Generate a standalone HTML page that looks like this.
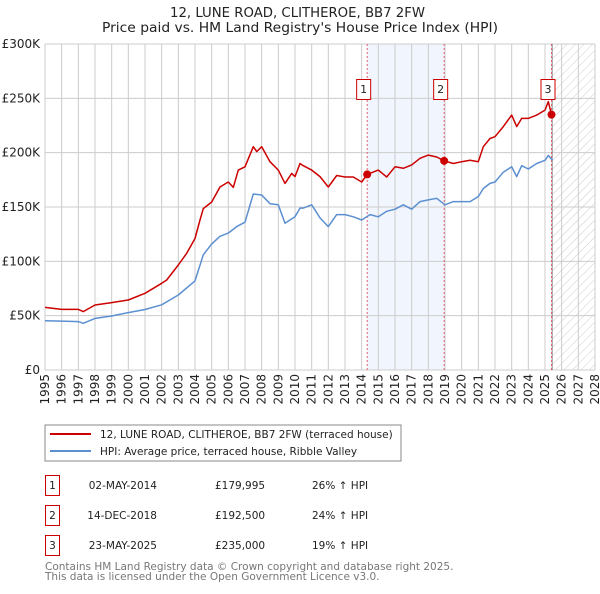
<!DOCTYPE html>
<html><head><meta charset="utf-8"><style>
body{margin:0;background:#fff;font-family:"DejaVu Sans","Liberation Sans",sans-serif;}
svg text{font-family:"DejaVu Sans","Liberation Sans",sans-serif;}
</style></head><body>
<svg id="c" width="600" height="590" xmlns="http://www.w3.org/2000/svg">
<defs><pattern id="hatch" width="6" height="6" patternUnits="userSpaceOnUse" patternTransform="rotate(45)"><line x1="0" y1="0" x2="0" y2="6" stroke="#ccc" stroke-width="1"/></pattern></defs>
<text x="170" y="17" textLength="255" lengthAdjust="spacingAndGlyphs" font-size="13" fill="#222">12, LUNE ROAD, CLITHEROE, BB7 2FW</text>
<text x="102" y="32" textLength="396" lengthAdjust="spacingAndGlyphs" font-size="13" fill="#222">Price paid vs. HM Land Registry's House Price Index (HPI)</text>
<g id="plot"></g>
<rect x="45" y="425" width="356" height="36" fill="#fff" stroke="#888"/>
<line x1="50" y1="434" x2="91" y2="434" stroke="#cc0000" stroke-width="2"/>
<text x="100" y="438" font-size="10.5" fill="#222">12, LUNE ROAD, CLITHEROE, BB7 2FW (terraced house)</text>
<line x1="50" y1="451" x2="91" y2="451" stroke="#5b8fd0" stroke-width="2"/>
<text x="100" y="455" font-size="10.5" fill="#222">HPI: Average price, terraced house, Ribble Valley</text>
<g font-size="10.5" fill="#222">
<rect x="45.5" y="475.5" width="14" height="20" fill="#fff" stroke="#c00"/><text x="52.5" y="489" text-anchor="middle">1</text>
<text x="157" y="489" text-anchor="end">02-MAY-2014</text><text x="215" y="489">£179,995</text><text x="312" y="489">26% ↑ HPI</text>
<rect x="45.5" y="505.5" width="14" height="20" fill="#fff" stroke="#c00"/><text x="52.5" y="519" text-anchor="middle">2</text>
<text x="157" y="519" text-anchor="end">14-DEC-2018</text><text x="215" y="519">£192,500</text><text x="312" y="519">24% ↑ HPI</text>
<rect x="45.5" y="535.5" width="14" height="20" fill="#fff" stroke="#c00"/><text x="52.5" y="549" text-anchor="middle">3</text>
<text x="157" y="549" text-anchor="end">23-MAY-2025</text><text x="215" y="549">£235,000</text><text x="312" y="549">19% ↑ HPI</text>
</g>
<text x="45" y="570" font-size="10.5" fill="#777">Contains HM Land Registry data © Crown copyright and database right 2025.</text>
<text x="45" y="580" font-size="10.5" fill="#777">This data is licensed under the Open Government Licence v3.0.</text>
</svg>
<script>
const hpiYears=[1995,1996,1997,1997.3,1998,1999,2000,2001,2002,2003,2004,2004.5,2005,2005.5,2006,2006.5,2007,2007.5,2008,2008.5,2009,2009.4,2010,2010.3,2010.5,2011,2011.5,2012,2012.5,2013,2013.5,2014,2014.5,2015,2015.5,2016,2016.5,2017,2017.5,2018,2018.5,2019,2019.5,2020,2020.5,2021,2021.3,2021.7,2022,2022.5,2023,2023.3,2023.6,2024,2024.5,2025,2025.2,2025.45];
const hpiValues=[45.4,45,44.5,43,47.5,49.7,52.8,55.7,60,69,82,106,116,123,126,132,136,162,161,153,152,135,141,149,149,152,140,132,143,143,141,138,143,141,146,148,152,148,155,156.5,158,152,155,155,155,159.6,167,171.7,173,182,187,178,188,185,190,193,197.5,193];
const priceYears=[1995,1996,1997,1997.3,1998,1999,2000,2001,2002,2002.3,2003,2003.5,2004,2004.3,2004.5,2005,2005.5,2006,2006.3,2006.6,2007,2007.5,2007.7,2008,2008.5,2009,2009.4,2009.8,2010,2010.3,2010.5,2011,2011.5,2012,2012.5,2013,2013.5,2014,2014.33,2015,2015.5,2016,2016.5,2017,2017.5,2018,2018.5,2018.95,2019.5,2020,2020.5,2021,2021.3,2021.7,2022,2022.5,2023,2023.3,2023.6,2024,2024.5,2025,2025.2,2025.39];
const priceValues=[57.6,55.8,55.8,53.7,59.8,62,64.4,70.6,79.8,82.8,96.6,107.4,121,138,148.5,154.6,168.4,173,168,184,187,205.5,201,205.5,191.7,184,171.7,180.9,178,190,188,184,178,168.4,179,177.6,177.6,173,180,184,177.6,187,185.6,188.7,194.8,197.8,196,192.5,190,191.7,193,191.7,205.5,213,214.7,224,234.6,224,231.5,231.5,234.6,239.2,247,235];
const saleYears=[2014.33,2018.95,2025.39];
const saleValues=[179.995,192.5,235];
const saleLabels=["1","2","3"];
const yTicks=[0,50,100,150,200,250,300];
const yTickLabels=["£0","£50K","£100K","£150K","£200K","£250K","£300K"];
const xTicks=[];for(let y=1995;y<=2028;y++)xTicks.push(y);
const X0=45,X1=595,Y0=370,Y1=44;
const sx=y=>X0+(y-1995)/(2028-1995)*(X1-X0);
const sy=v=>Y0-v/300*(Y0-Y1);
const NS="http://www.w3.org/2000/svg";
const g=document.getElementById('plot');
function mk(t,a,p){const e=document.createElementNS(NS,t);for(const k in a)e.setAttribute(k,a[k]);(p||g).appendChild(e);return e;}
let e=mk('rect',{x:sx(saleYears[0]),y:Y1,width:sx(saleYears[1])-sx(saleYears[0]),height:Y0-Y1,fill:'#eef3fc',opacity:0.8});


const hs=2025.43;
e=mk('rect',{x:sx(hs),y:Y1,width:X1-sx(hs),height:Y0-Y1,fill:'url(#hatch)'});


xTicks.forEach(t=>{const l=mk('line',{x1:sx(t),x2:sx(t),y1:Y1,y2:Y0,stroke:'#ccc','stroke-width':1});


const tx=mk('text',{x:0,y:0,'font-size':12,fill:'#222','text-anchor':'end',transform:`translate(${sx(t)+4},374) rotate(-90)`});tx.textContent=t;

});
yTicks.forEach((t,i)=>{const l=mk('line',{x1:X0,x2:X1,y1:sy(t),y2:sy(t),stroke:'#ccc','stroke-width':1});


const tx=mk('text',{x:40,y:sy(t)+4,'font-size':12,fill:'#222','text-anchor':'end'});tx.textContent=yTickLabels[i];

});
e=mk('line',{x1:sx(hs),x2:sx(hs),y1:Y1,y2:Y0,stroke:'#888'});


saleYears.forEach((s,i)=>{const l=mk('line',{x1:sx(s),x2:sx(s),y1:Y1,y2:Y0,stroke:'#e06070','stroke-dasharray':'2,2'});

});
function path(xs,vs,col,name){const d=xs.map((x,i)=>(i?'L':'M')+sx(x).toFixed(1)+','+sy(vs[i]).toFixed(1)).join('');
const p=mk('path',{d,fill:'none',stroke:col,'stroke-width':1.5,'stroke-linejoin':'round'});

}
path(hpiYears,hpiValues,'#5b8fd0','hpi-line');
path(priceYears,priceValues,'#cc0000','price-line');
saleYears.forEach((s,i)=>{const c=mk('circle',{cx:sx(s),cy:sy(saleValues[i]),r:4,fill:'#cc0000'});


const bx=sx(s)-3.5-7;
const r=mk('rect',{x:bx,y:79.5,width:14,height:20,fill:'#fff',stroke:'#c00'});


const t=mk('text',{x:bx+7,y:93,'font-size':11,'text-anchor':'middle',fill:'#222'});t.textContent=saleLabels[i];

});
</script>
</body></html>
